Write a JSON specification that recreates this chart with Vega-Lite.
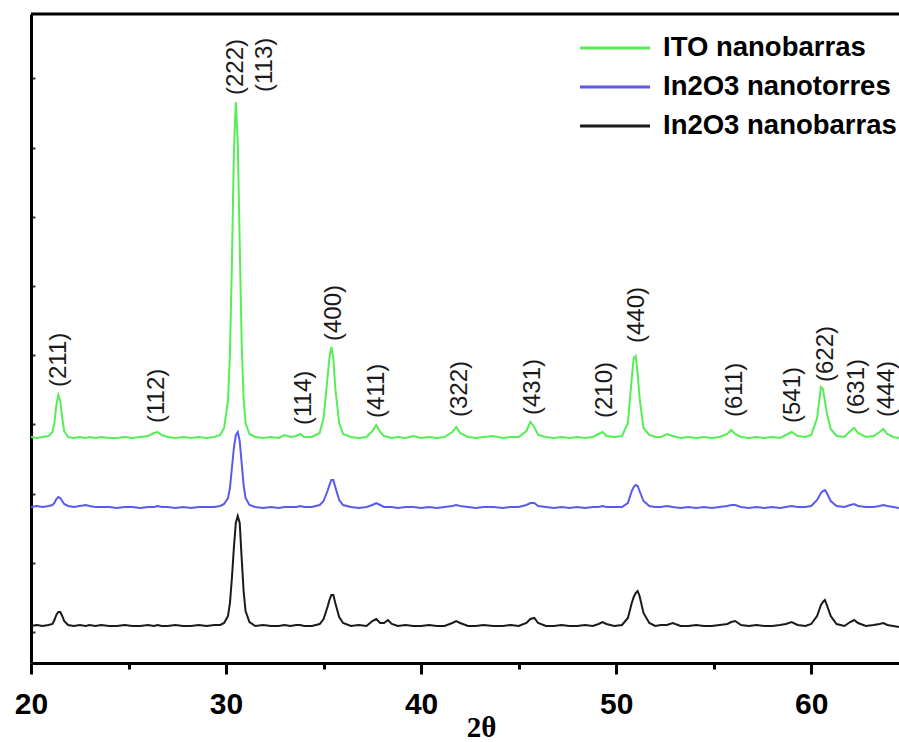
{
  "$schema": "https://vega.github.io/schema/vega-lite/v6.json",
  "width": 868,
  "height": 649,
  "autosize": {"type": "none"},
  "padding": {"left": 31, "top": 14, "right": 0, "bottom": 79},
  "background": "white",
  "config": {"view": {"stroke": null}, "font": "Liberation Sans"},
  "layer": [
    {
      "data": {"values": [
        {"t":20.0,"ITO nanobarras":226,"In2O3 nanotorres":156,"In2O3 nanobarras":37},
        {"t":20.3,"ITO nanobarras":225,"In2O3 nanotorres":157,"In2O3 nanobarras":38},
        {"t":20.6,"ITO nanobarras":226,"In2O3 nanotorres":156,"In2O3 nanobarras":37},
        {"t":20.9,"ITO nanobarras":227,"In2O3 nanotorres":157,"In2O3 nanobarras":38},
        {"t":21.1,"ITO nanobarras":231,"In2O3 nanotorres":158,"In2O3 nanobarras":39},
        {"t":21.2,"ITO nanobarras":240,"In2O3 nanotorres":160,"In2O3 nanobarras":43},
        {"t":21.3,"ITO nanobarras":258,"In2O3 nanotorres":164,"In2O3 nanobarras":48},
        {"t":21.4,"ITO nanobarras":268,"In2O3 nanotorres":166,"In2O3 nanobarras":51},
        {"t":21.5,"ITO nanobarras":262,"In2O3 nanotorres":165,"In2O3 nanobarras":51},
        {"t":21.6,"ITO nanobarras":245,"In2O3 nanotorres":162,"In2O3 nanobarras":47},
        {"t":21.7,"ITO nanobarras":232,"In2O3 nanotorres":159,"In2O3 nanobarras":42},
        {"t":21.9,"ITO nanobarras":226,"In2O3 nanotorres":157,"In2O3 nanobarras":38},
        {"t":22.2,"ITO nanobarras":225,"In2O3 nanotorres":156,"In2O3 nanobarras":37},
        {"t":22.5,"ITO nanobarras":226,"In2O3 nanotorres":157,"In2O3 nanobarras":38},
        {"t":22.8,"ITO nanobarras":225,"In2O3 nanotorres":158,"In2O3 nanobarras":37},
        {"t":23.0,"ITO nanobarras":226,"In2O3 nanotorres":157,"In2O3 nanobarras":38},
        {"t":23.3,"ITO nanobarras":225,"In2O3 nanotorres":156,"In2O3 nanobarras":37},
        {"t":23.6,"ITO nanobarras":226,"In2O3 nanotorres":156,"In2O3 nanobarras":38},
        {"t":24.0,"ITO nanobarras":225,"In2O3 nanotorres":156,"In2O3 nanobarras":37},
        {"t":24.4,"ITO nanobarras":225,"In2O3 nanotorres":155,"In2O3 nanobarras":37},
        {"t":24.8,"ITO nanobarras":226,"In2O3 nanotorres":156,"In2O3 nanobarras":38},
        {"t":25.2,"ITO nanobarras":225,"In2O3 nanotorres":156,"In2O3 nanobarras":37},
        {"t":25.6,"ITO nanobarras":226,"In2O3 nanotorres":155,"In2O3 nanobarras":37},
        {"t":26.0,"ITO nanobarras":227,"In2O3 nanotorres":156,"In2O3 nanobarras":38},
        {"t":26.3,"ITO nanobarras":230,"In2O3 nanotorres":156,"In2O3 nanobarras":37},
        {"t":26.5,"ITO nanobarras":231,"In2O3 nanotorres":157,"In2O3 nanobarras":38},
        {"t":26.7,"ITO nanobarras":228,"In2O3 nanotorres":156,"In2O3 nanobarras":37},
        {"t":27.0,"ITO nanobarras":226,"In2O3 nanotorres":156,"In2O3 nanobarras":37},
        {"t":27.4,"ITO nanobarras":225,"In2O3 nanotorres":155,"In2O3 nanobarras":38},
        {"t":27.8,"ITO nanobarras":226,"In2O3 nanotorres":156,"In2O3 nanobarras":37},
        {"t":28.2,"ITO nanobarras":225,"In2O3 nanotorres":155,"In2O3 nanobarras":37},
        {"t":28.6,"ITO nanobarras":226,"In2O3 nanotorres":156,"In2O3 nanobarras":38},
        {"t":29.0,"ITO nanobarras":225,"In2O3 nanotorres":156,"In2O3 nanobarras":37},
        {"t":29.4,"ITO nanobarras":226,"In2O3 nanotorres":156,"In2O3 nanobarras":38},
        {"t":29.7,"ITO nanobarras":228,"In2O3 nanotorres":157,"In2O3 nanobarras":38},
        {"t":29.9,"ITO nanobarras":235,"In2O3 nanotorres":159,"In2O3 nanobarras":40},
        {"t":30.1,"ITO nanobarras":262,"In2O3 nanotorres":165,"In2O3 nanobarras":47},
        {"t":30.2,"ITO nanobarras":310,"In2O3 nanotorres":175,"In2O3 nanobarras":60},
        {"t":30.3,"ITO nanobarras":400,"In2O3 nanotorres":195,"In2O3 nanobarras":85},
        {"t":30.4,"ITO nanobarras":510,"In2O3 nanotorres":215,"In2O3 nanobarras":115},
        {"t":30.5,"ITO nanobarras":561,"In2O3 nanotorres":228,"In2O3 nanobarras":140},
        {"t":30.6,"ITO nanobarras":520,"In2O3 nanotorres":231,"In2O3 nanobarras":147},
        {"t":30.7,"ITO nanobarras":420,"In2O3 nanotorres":222,"In2O3 nanobarras":140},
        {"t":30.8,"ITO nanobarras":320,"In2O3 nanotorres":200,"In2O3 nanobarras":105},
        {"t":30.9,"ITO nanobarras":265,"In2O3 nanotorres":178,"In2O3 nanobarras":72},
        {"t":31.0,"ITO nanobarras":240,"In2O3 nanotorres":165,"In2O3 nanobarras":52},
        {"t":31.2,"ITO nanobarras":229,"In2O3 nanotorres":158,"In2O3 nanobarras":41},
        {"t":31.5,"ITO nanobarras":226,"In2O3 nanotorres":156,"In2O3 nanobarras":37},
        {"t":31.9,"ITO nanobarras":225,"In2O3 nanotorres":155,"In2O3 nanobarras":38},
        {"t":32.3,"ITO nanobarras":226,"In2O3 nanotorres":156,"In2O3 nanobarras":37},
        {"t":32.7,"ITO nanobarras":225,"In2O3 nanotorres":155,"In2O3 nanobarras":37},
        {"t":33.0,"ITO nanobarras":228,"In2O3 nanotorres":156,"In2O3 nanobarras":38},
        {"t":33.3,"ITO nanobarras":226,"In2O3 nanotorres":156,"In2O3 nanobarras":37},
        {"t":33.6,"ITO nanobarras":227,"In2O3 nanotorres":156,"In2O3 nanobarras":38},
        {"t":33.8,"ITO nanobarras":229,"In2O3 nanotorres":157,"In2O3 nanobarras":38},
        {"t":34.0,"ITO nanobarras":226,"In2O3 nanotorres":156,"In2O3 nanobarras":37},
        {"t":34.4,"ITO nanobarras":226,"In2O3 nanotorres":156,"In2O3 nanobarras":37},
        {"t":34.8,"ITO nanobarras":230,"In2O3 nanotorres":158,"In2O3 nanobarras":39},
        {"t":35.0,"ITO nanobarras":245,"In2O3 nanotorres":162,"In2O3 nanobarras":44},
        {"t":35.2,"ITO nanobarras":285,"In2O3 nanotorres":172,"In2O3 nanobarras":56},
        {"t":35.3,"ITO nanobarras":305,"In2O3 nanotorres":178,"In2O3 nanobarras":63},
        {"t":35.4,"ITO nanobarras":316,"In2O3 nanotorres":183,"In2O3 nanobarras":68},
        {"t":35.5,"ITO nanobarras":305,"In2O3 nanotorres":183,"In2O3 nanobarras":68},
        {"t":35.6,"ITO nanobarras":275,"In2O3 nanotorres":176,"In2O3 nanobarras":60},
        {"t":35.8,"ITO nanobarras":240,"In2O3 nanotorres":163,"In2O3 nanobarras":46},
        {"t":36.0,"ITO nanobarras":229,"In2O3 nanotorres":158,"In2O3 nanobarras":40},
        {"t":36.4,"ITO nanobarras":226,"In2O3 nanotorres":156,"In2O3 nanobarras":37},
        {"t":36.8,"ITO nanobarras":225,"In2O3 nanotorres":155,"In2O3 nanobarras":38},
        {"t":37.2,"ITO nanobarras":226,"In2O3 nanotorres":156,"In2O3 nanobarras":37},
        {"t":37.5,"ITO nanobarras":232,"In2O3 nanotorres":158,"In2O3 nanobarras":42},
        {"t":37.7,"ITO nanobarras":238,"In2O3 nanotorres":160,"In2O3 nanobarras":44},
        {"t":37.9,"ITO nanobarras":231,"In2O3 nanotorres":158,"In2O3 nanobarras":40},
        {"t":38.1,"ITO nanobarras":227,"In2O3 nanotorres":156,"In2O3 nanobarras":40},
        {"t":38.3,"ITO nanobarras":226,"In2O3 nanotorres":156,"In2O3 nanobarras":43},
        {"t":38.5,"ITO nanobarras":225,"In2O3 nanotorres":156,"In2O3 nanobarras":39},
        {"t":38.8,"ITO nanobarras":226,"In2O3 nanotorres":155,"In2O3 nanobarras":37},
        {"t":39.2,"ITO nanobarras":225,"In2O3 nanotorres":156,"In2O3 nanobarras":38},
        {"t":39.6,"ITO nanobarras":227,"In2O3 nanotorres":156,"In2O3 nanobarras":37},
        {"t":40.0,"ITO nanobarras":225,"In2O3 nanotorres":155,"In2O3 nanobarras":37},
        {"t":40.4,"ITO nanobarras":226,"In2O3 nanotorres":156,"In2O3 nanobarras":38},
        {"t":40.8,"ITO nanobarras":225,"In2O3 nanotorres":155,"In2O3 nanobarras":37},
        {"t":41.2,"ITO nanobarras":226,"In2O3 nanotorres":156,"In2O3 nanobarras":37},
        {"t":41.6,"ITO nanobarras":231,"In2O3 nanotorres":157,"In2O3 nanobarras":40},
        {"t":41.8,"ITO nanobarras":236,"In2O3 nanotorres":158,"In2O3 nanobarras":42},
        {"t":42.0,"ITO nanobarras":230,"In2O3 nanotorres":157,"In2O3 nanobarras":40},
        {"t":42.4,"ITO nanobarras":226,"In2O3 nanotorres":156,"In2O3 nanobarras":37},
        {"t":42.8,"ITO nanobarras":225,"In2O3 nanotorres":155,"In2O3 nanobarras":37},
        {"t":43.2,"ITO nanobarras":226,"In2O3 nanotorres":156,"In2O3 nanobarras":38},
        {"t":43.7,"ITO nanobarras":227,"In2O3 nanotorres":156,"In2O3 nanobarras":37},
        {"t":44.2,"ITO nanobarras":225,"In2O3 nanotorres":155,"In2O3 nanobarras":37},
        {"t":44.6,"ITO nanobarras":226,"In2O3 nanotorres":156,"In2O3 nanobarras":38},
        {"t":45.0,"ITO nanobarras":226,"In2O3 nanotorres":156,"In2O3 nanobarras":37},
        {"t":45.4,"ITO nanobarras":232,"In2O3 nanotorres":158,"In2O3 nanobarras":40},
        {"t":45.6,"ITO nanobarras":241,"In2O3 nanotorres":160,"In2O3 nanobarras":44},
        {"t":45.8,"ITO nanobarras":236,"In2O3 nanotorres":160,"In2O3 nanobarras":45},
        {"t":46.0,"ITO nanobarras":228,"In2O3 nanotorres":157,"In2O3 nanobarras":40},
        {"t":46.4,"ITO nanobarras":226,"In2O3 nanotorres":156,"In2O3 nanobarras":37},
        {"t":46.8,"ITO nanobarras":225,"In2O3 nanotorres":155,"In2O3 nanobarras":37},
        {"t":47.2,"ITO nanobarras":226,"In2O3 nanotorres":156,"In2O3 nanobarras":38},
        {"t":47.6,"ITO nanobarras":225,"In2O3 nanotorres":155,"In2O3 nanobarras":37},
        {"t":48.0,"ITO nanobarras":226,"In2O3 nanotorres":156,"In2O3 nanobarras":37},
        {"t":48.4,"ITO nanobarras":225,"In2O3 nanotorres":155,"In2O3 nanobarras":38},
        {"t":48.8,"ITO nanobarras":226,"In2O3 nanotorres":156,"In2O3 nanobarras":37},
        {"t":49.1,"ITO nanobarras":229,"In2O3 nanotorres":156,"In2O3 nanobarras":39},
        {"t":49.3,"ITO nanobarras":231,"In2O3 nanotorres":157,"In2O3 nanobarras":41},
        {"t":49.5,"ITO nanobarras":227,"In2O3 nanotorres":156,"In2O3 nanobarras":39},
        {"t":49.9,"ITO nanobarras":226,"In2O3 nanotorres":156,"In2O3 nanobarras":37},
        {"t":50.3,"ITO nanobarras":227,"In2O3 nanotorres":156,"In2O3 nanobarras":38},
        {"t":50.6,"ITO nanobarras":240,"In2O3 nanotorres":160,"In2O3 nanobarras":45},
        {"t":50.8,"ITO nanobarras":285,"In2O3 nanotorres":172,"In2O3 nanobarras":60},
        {"t":50.9,"ITO nanobarras":305,"In2O3 nanotorres":176,"In2O3 nanobarras":66},
        {"t":51.0,"ITO nanobarras":307,"In2O3 nanotorres":178,"In2O3 nanobarras":70},
        {"t":51.1,"ITO nanobarras":290,"In2O3 nanotorres":177,"In2O3 nanobarras":72},
        {"t":51.2,"ITO nanobarras":265,"In2O3 nanotorres":172,"In2O3 nanobarras":67},
        {"t":51.4,"ITO nanobarras":235,"In2O3 nanotorres":162,"In2O3 nanobarras":50},
        {"t":51.7,"ITO nanobarras":228,"In2O3 nanotorres":157,"In2O3 nanobarras":40},
        {"t":52.0,"ITO nanobarras":226,"In2O3 nanotorres":156,"In2O3 nanobarras":37},
        {"t":52.3,"ITO nanobarras":226,"In2O3 nanotorres":156,"In2O3 nanobarras":38},
        {"t":52.6,"ITO nanobarras":229,"In2O3 nanotorres":157,"In2O3 nanobarras":38},
        {"t":52.9,"ITO nanobarras":227,"In2O3 nanotorres":156,"In2O3 nanobarras":40},
        {"t":53.3,"ITO nanobarras":225,"In2O3 nanotorres":155,"In2O3 nanobarras":37},
        {"t":53.7,"ITO nanobarras":226,"In2O3 nanotorres":156,"In2O3 nanobarras":37},
        {"t":54.1,"ITO nanobarras":225,"In2O3 nanotorres":155,"In2O3 nanobarras":38},
        {"t":54.5,"ITO nanobarras":226,"In2O3 nanotorres":156,"In2O3 nanobarras":37},
        {"t":54.9,"ITO nanobarras":225,"In2O3 nanotorres":155,"In2O3 nanobarras":37},
        {"t":55.3,"ITO nanobarras":226,"In2O3 nanotorres":156,"In2O3 nanobarras":38},
        {"t":55.7,"ITO nanobarras":229,"In2O3 nanotorres":157,"In2O3 nanobarras":39},
        {"t":55.9,"ITO nanobarras":233,"In2O3 nanotorres":158,"In2O3 nanobarras":41},
        {"t":56.1,"ITO nanobarras":229,"In2O3 nanotorres":158,"In2O3 nanobarras":42},
        {"t":56.4,"ITO nanobarras":226,"In2O3 nanotorres":156,"In2O3 nanobarras":38},
        {"t":56.8,"ITO nanobarras":225,"In2O3 nanotorres":155,"In2O3 nanobarras":37},
        {"t":57.2,"ITO nanobarras":226,"In2O3 nanotorres":156,"In2O3 nanobarras":38},
        {"t":57.6,"ITO nanobarras":225,"In2O3 nanotorres":155,"In2O3 nanobarras":37},
        {"t":58.0,"ITO nanobarras":226,"In2O3 nanotorres":156,"In2O3 nanobarras":37},
        {"t":58.4,"ITO nanobarras":225,"In2O3 nanotorres":155,"In2O3 nanobarras":38},
        {"t":58.7,"ITO nanobarras":228,"In2O3 nanotorres":156,"In2O3 nanobarras":39},
        {"t":59.0,"ITO nanobarras":231,"In2O3 nanotorres":157,"In2O3 nanobarras":41},
        {"t":59.3,"ITO nanobarras":227,"In2O3 nanotorres":156,"In2O3 nanobarras":38},
        {"t":59.7,"ITO nanobarras":226,"In2O3 nanotorres":156,"In2O3 nanobarras":37},
        {"t":60.0,"ITO nanobarras":228,"In2O3 nanotorres":157,"In2O3 nanobarras":39},
        {"t":60.3,"ITO nanobarras":245,"In2O3 nanotorres":163,"In2O3 nanobarras":47},
        {"t":60.5,"ITO nanobarras":276,"In2O3 nanotorres":170,"In2O3 nanobarras":58},
        {"t":60.6,"ITO nanobarras":274,"In2O3 nanotorres":172,"In2O3 nanobarras":61},
        {"t":60.7,"ITO nanobarras":262,"In2O3 nanotorres":173,"In2O3 nanobarras":63},
        {"t":60.8,"ITO nanobarras":250,"In2O3 nanotorres":170,"In2O3 nanobarras":58},
        {"t":61.0,"ITO nanobarras":234,"In2O3 nanotorres":162,"In2O3 nanobarras":47},
        {"t":61.3,"ITO nanobarras":227,"In2O3 nanotorres":157,"In2O3 nanobarras":39},
        {"t":61.7,"ITO nanobarras":226,"In2O3 nanotorres":156,"In2O3 nanobarras":37},
        {"t":62.0,"ITO nanobarras":232,"In2O3 nanotorres":158,"In2O3 nanobarras":41},
        {"t":62.2,"ITO nanobarras":235,"In2O3 nanotorres":159,"In2O3 nanobarras":43},
        {"t":62.4,"ITO nanobarras":230,"In2O3 nanotorres":157,"In2O3 nanobarras":40},
        {"t":62.8,"ITO nanobarras":226,"In2O3 nanotorres":156,"In2O3 nanobarras":37},
        {"t":63.2,"ITO nanobarras":227,"In2O3 nanotorres":156,"In2O3 nanobarras":38},
        {"t":63.5,"ITO nanobarras":231,"In2O3 nanotorres":157,"In2O3 nanobarras":39},
        {"t":63.7,"ITO nanobarras":234,"In2O3 nanotorres":158,"In2O3 nanobarras":40},
        {"t":63.9,"ITO nanobarras":229,"In2O3 nanotorres":157,"In2O3 nanobarras":38},
        {"t":64.2,"ITO nanobarras":226,"In2O3 nanotorres":156,"In2O3 nanobarras":37},
        {"t":64.5,"ITO nanobarras":225,"In2O3 nanotorres":155,"In2O3 nanobarras":36}
      ]},
      "transform": [{"fold": ["ITO nanobarras", "In2O3 nanotorres", "In2O3 nanobarras"], "as": ["serie", "intensidad"]}],
      "mark": {"type": "line", "strokeWidth": 2},
      "encoding": {
        "x": {
          "field": "t", "type": "quantitative", "title": "2θ",
          "scale": {"domain": [20, 64.5], "nice": false, "zero": false},
          "axis": {
            "values": [20, 25, 30, 35, 40, 45, 50, 55, 60],
            "labelExpr": "datum.value % 10 === 0 ? datum.label : ''",
            "tickSize": {"condition": {"test": "datum.value % 10 !== 0", "value": 6}, "value": 11},
            "tickWidth": 3, "tickColor": "black",
            "domainColor": "black", "domainWidth": 3,
            "labelFont": "Liberation Sans", "labelFontWeight": "bold", "labelFontSize": 30,
            "labelColor": "black", "labelPadding": 15, "labelFlush": false, "labelOverlap": false,
            "grid": false,
            "titleFont": "Liberation Serif", "titleFontSize": 29, "titleFontWeight": "bold",
            "titleColor": "black", "titlePadding": -6, "titleX": 450, "titleAlign": "center"
          }
        },
        "y": {
          "field": "intensidad", "type": "quantitative", "title": null,
          "scale": {"domain": [0, 649], "nice": false, "zero": false},
          "axis": {
            "labels": false, "grid": false,
            "values": [31, 65.6, 100.2, 134.8, 169.4, 204, 238.6, 273.2, 307.8, 342.4, 377, 411.6, 446.2, 480.8, 515.4, 550, 584.6, 619.2],
            "tickSize": -4, "tickWidth": 2, "tickColor": "#333333",
            "domainColor": "black", "domainWidth": 3
          }
        },
        "color": {
          "field": "serie", "type": "nominal",
          "scale": {"domain": ["ITO nanobarras", "In2O3 nanotorres", "In2O3 nanobarras"], "range": ["#55ee55", "#5a5aee", "#1a1a1a"]},
          "legend": {
            "orient": "none", "legendX": 547.5, "legendY": 14.75, "title": null,
            "symbolType": "stroke", "symbolSize": 4900, "symbolStrokeWidth": 3,
            "labelFont": "Liberation Sans", "labelFontWeight": "bold", "labelFontSize": 27.5,
            "labelColor": "black", "labelLimit": 0, "labelOffset": 11.5,
            "clipHeight": 38.5, "rowPadding": 0, "padding": 0, "direction": "vertical"
          }
        }
      }
    },
    {
      "data": {"values": [
        {"hkl": "(211)", "t": 21.44, "intensidad": 276},
        {"hkl": "(112)", "t": 26.46, "intensidad": 240},
        {"hkl": "(222)", "t": 30.53, "intensidad": 568},
        {"hkl": "(113)", "t": 32.0, "intensidad": 571},
        {"hkl": "(114)", "t": 34.0, "intensidad": 238},
        {"hkl": "(400)", "t": 35.53, "intensidad": 322},
        {"hkl": "(411)", "t": 37.74, "intensidad": 245},
        {"hkl": "(322)", "t": 41.99, "intensidad": 246},
        {"hkl": "(431)", "t": 45.74, "intensidad": 248},
        {"hkl": "(210)", "t": 49.43, "intensidad": 245},
        {"hkl": "(440)", "t": 51.07, "intensidad": 320},
        {"hkl": "(611)", "t": 56.09, "intensidad": 246},
        {"hkl": "(541)", "t": 59.06, "intensidad": 240},
        {"hkl": "(622)", "t": 60.76, "intensidad": 281},
        {"hkl": "(631)", "t": 62.35, "intensidad": 248},
        {"hkl": "(444)", "t": 63.88, "intensidad": 246}
      ]},
      "mark": {"type": "text", "angle": 270, "align": "left", "baseline": "middle", "fontSize": 24, "font": "Liberation Sans", "color": "#1a1a1a"},
      "encoding": {
        "x": {"field": "t", "type": "quantitative", "title": "2θ"},
        "y": {"field": "intensidad", "type": "quantitative", "title": null},
        "text": {"field": "hkl"}
      }
    },
    {
      "data": {"values": [{}]},
      "mark": {"type": "rule", "strokeWidth": 3, "color": "black"},
      "encoding": {"y": {"datum": 649}}
    }
  ]
}
